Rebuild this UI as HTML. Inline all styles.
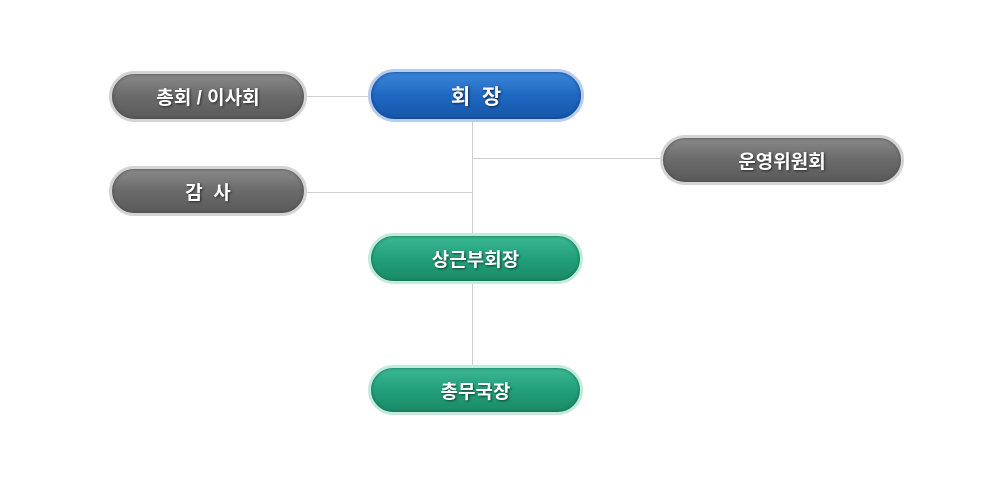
<!DOCTYPE html>
<html><head><meta charset="utf-8"><style>
body{margin:0;width:1000px;height:480px;background:#fff;position:relative;overflow:hidden;font-family:"Liberation Sans","Noto Sans CJK KR","NanumGothic",sans-serif}
.n{position:absolute;box-sizing:border-box;border-radius:30px;color:#fff;font-weight:bold;font-size:19px;display:flex;align-items:center;justify-content:center;text-shadow:1px 1px 2px rgba(0,0,0,.6)}
.g{background:linear-gradient(#8a8a8a,#6a6a6a 50%,#5a5a5a);border:3px solid #d4d4d4;box-shadow:inset 0 0 3px #444}
.b{background:linear-gradient(#3b86d8,#1f68c2 50%,#1656a8);border:3px solid #b8cde8;box-shadow:inset 0 0 3px #0a3a7a}
.t{background:linear-gradient(#3cb893,#22a07a 50%,#1a8a68);border:3px solid #c4eadc;box-shadow:inset 0 0 3px #0d6048}
.l{position:absolute;background:#cfcfcf}
</style></head><body>
<div class="l" style="left:307px;top:96px;width:62px;height:1px"></div>
<div class="l" style="left:472px;top:122px;width:1px;height:244px"></div>
<div class="l" style="left:472px;top:158px;width:189px;height:1px"></div>
<div class="l" style="left:307px;top:192px;width:166px;height:1px"></div>
<div class="n g" style="left:109px;top:71px;width:198px;height:51px">총회 / 이사회</div>
<div class="n b" style="left:368px;top:69px;width:216px;height:53px;font-size:21px">회&nbsp;&nbsp;장</div>
<div class="n g" style="left:660px;top:135px;width:244px;height:50px">운영위원회</div>
<div class="n g" style="left:109px;top:166px;width:198px;height:50px">감&nbsp;&nbsp;사</div>
<div class="n t" style="left:368px;top:233px;width:215px;height:51px">상근부회장</div>
<div class="n t" style="left:368px;top:365px;width:215px;height:50px">총무국장</div>
</body></html>
